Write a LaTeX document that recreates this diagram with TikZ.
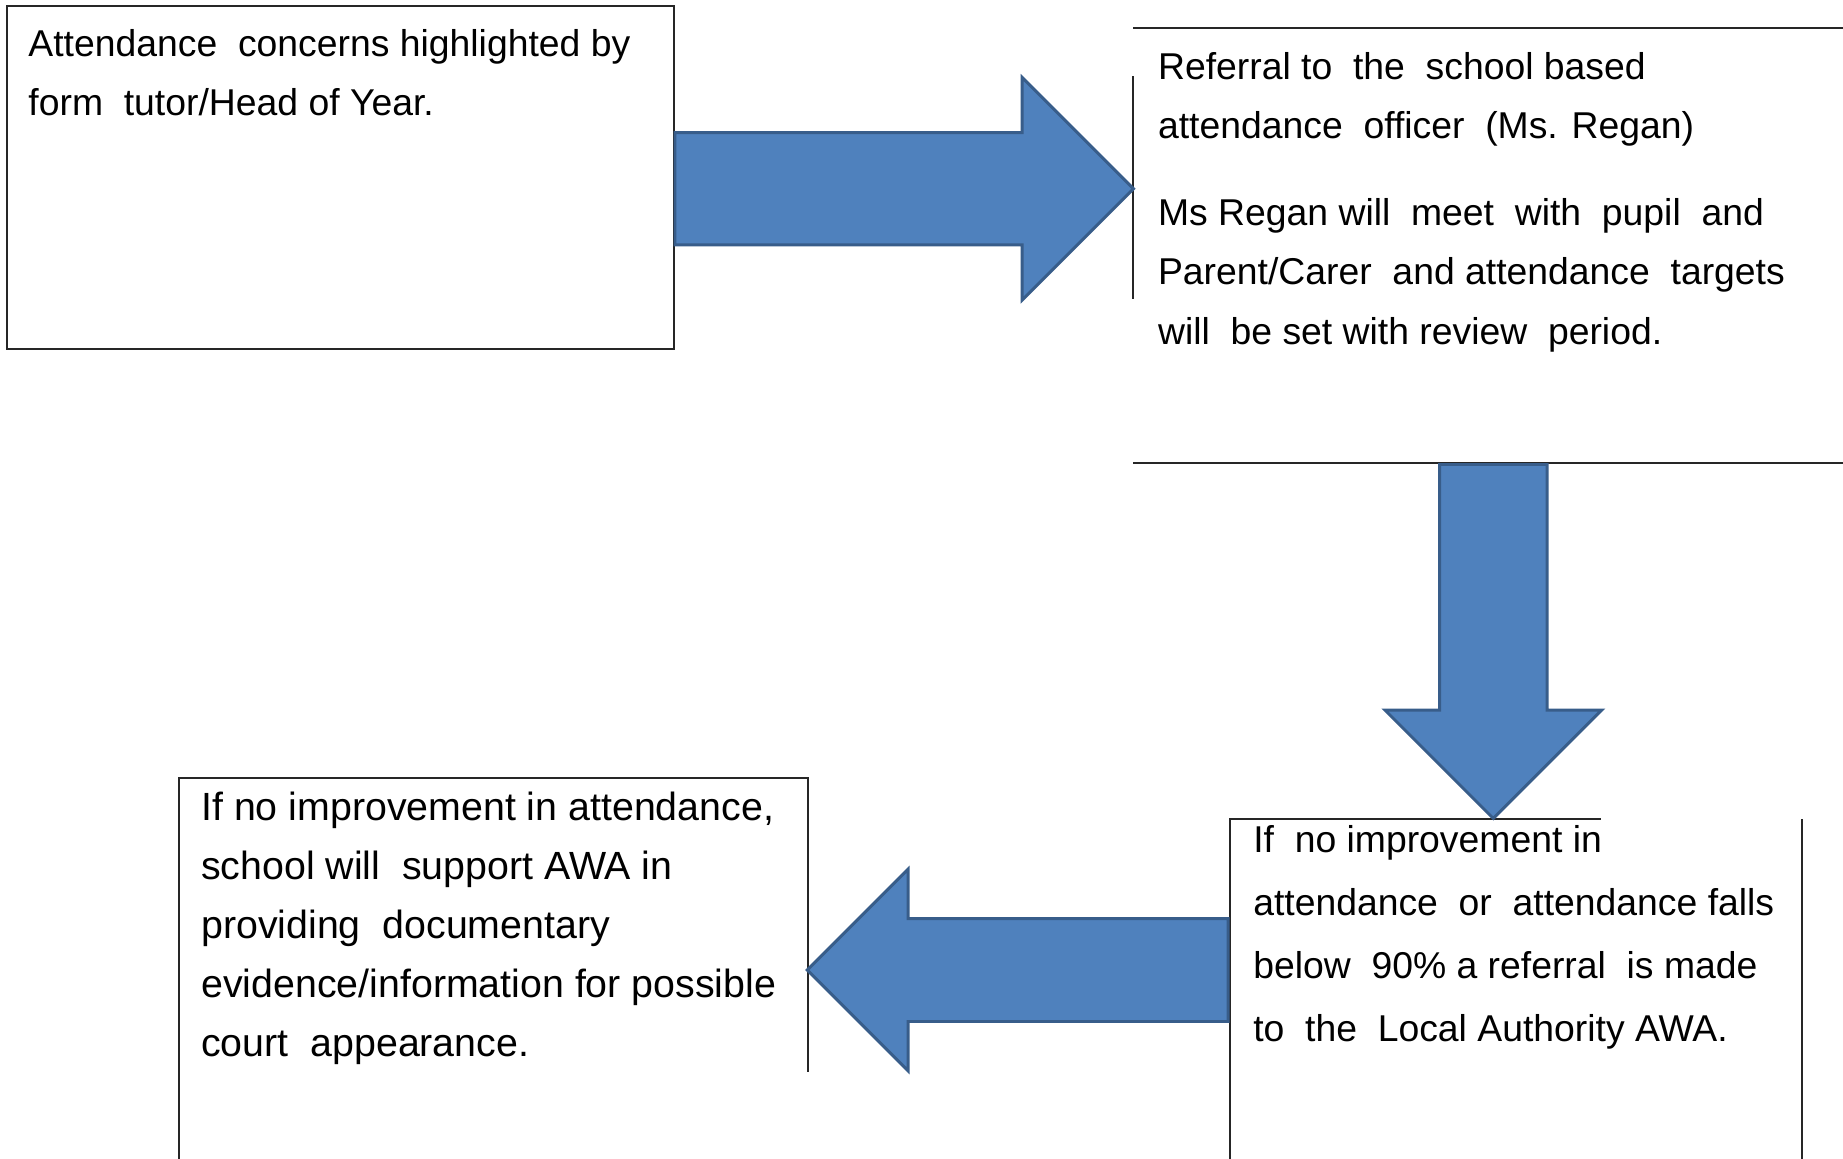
\documentclass[tikz,border=0pt]{standalone}
\usepackage{fontspec}
\setmainfont{Liberation Sans}
\usetikzlibrary{shapes.arrows}

\definecolor{arrowfill}{HTML}{4F81BD}
\definecolor{arrowedge}{HTML}{385D8A}

\tikzset{
  boxline/.style={draw=black!85, line width=1.5pt},
  boxtext/.style={anchor=base west, inner sep=0pt, align=left},
  blockarrow/.style={single arrow, draw=arrowedge, fill=arrowfill, line width=2.2pt,
    single arrow tip angle=90, inner xsep=0pt, minimum width=0pt, anchor=tail},
}

\begin{document}
\begin{tikzpicture}[x=0.75pt,y=0.75pt,yscale=-1,xscale=1]
    \useasboundingbox (0,0) rectangle (1843,1159);
    %Box lines
    \draw[boxline] (7,6) rectangle (673.5,349);
    \draw[boxline] (1133,28.2) -- (1843,28.2);
    \draw[boxline] (1133,76.4) -- (1133,298.6);
    \draw[boxline] (1133,463) -- (1843,463);
    \draw[boxline] (1229.5,1159) -- (1229.5,819) -- (1601,819);
    \draw[boxline] (1802,819) -- (1802,1159);
    \draw[boxline] (178.7,1159) -- (178.7,778) -- (807.5,778) -- (807.5,1072);

    %Block arrows
    \node[blockarrow, inner ysep=41pt, single arrow head extend=41.4pt, minimum height=343.9pt] (toofficer) at (673.5,188.7) {};
    \node[blockarrow, rotate=-90, inner ysep=39.2pt, single arrow head extend=41pt, minimum height=265.5pt] (toawa) at (1493.3,463) {};
    \node[blockarrow, rotate=180, inner ysep=37.5pt, single arrow head extend=37pt, minimum height=315.6pt] (tocourt) at (1229.5,970) {};

    % Text Node (placed at the baseline of its last line)
    \draw (28.2,115.2) node (concern) [boxtext, font=\fontsize{28}{44}\selectfont]
      {Attendance \ concerns highlighted by\\form \ tutor/Head of Year.};
    % Text Node
    \draw (1157.8,344.4) node (officer) [boxtext, font=\fontsize{28}{44.6}\selectfont]
      {Referral to \ the \ school based\\attendance \ officer \ (Ms. Regan)\\[20.6pt]
       Ms Regan will \ meet \ with \ pupil \ and\\Parent/Carer \ and attendance \ targets\\will \ be set with review \ period.};
    % Text Node
    \draw (1253,1041.4) node (awa) [boxtext, font=\fontsize{28}{47.3}\selectfont]
      {If \ no improvement in\\attendance \ or \ attendance falls\\below \ 90\% a referral \ is made\\to \ the \ Local Authority AWA.};
    % Text Node
    \draw (201,1056.7) node (court) [boxtext, font=\fontsize{29.5}{44.3}\selectfont]
      {If no improvement in attendance,\\school will \ support AWA in\\providing \ documentary\\evidence/information for possible\\court \ appearance.};
\end{tikzpicture}
\end{document}
